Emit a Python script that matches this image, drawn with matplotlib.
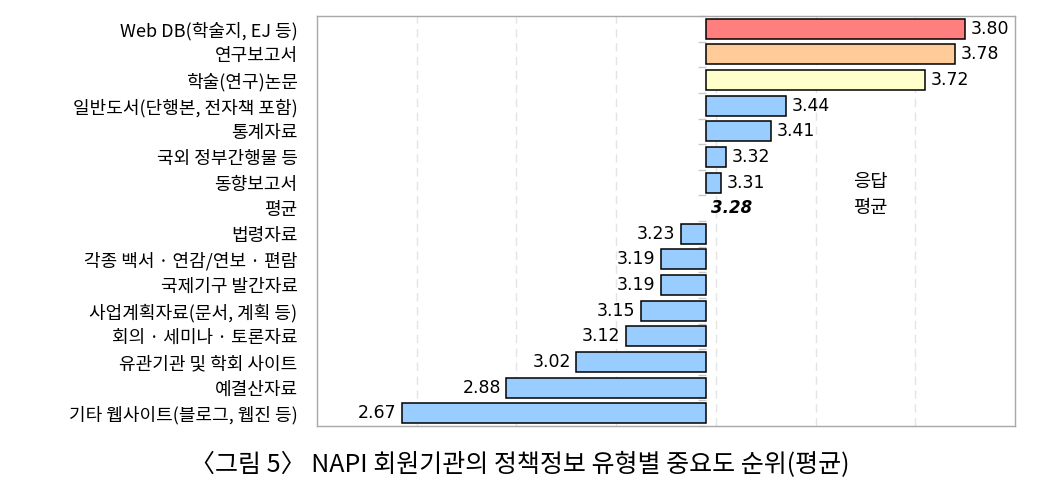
import matplotlib
matplotlib.use('Agg')
import matplotlib.pyplot as plt
import numpy as np

plt.rcParams['font.family'] = ['Noto Sans CJK KR', 'DejaVu Sans']

# data (top to bottom)
categories = ['Web DB(학술지, EJ 등)', '연구보고서', '학술(연구)논문', '일반도서(단행본, 전자책 포함)',
              '통계자료', '국외 정부간행물 등', '동향보고서', '평균', '법령자료',
              '각종 백서 · 연감/연보 · 편람', '국제기구 발간자료', '사업계획자료(문서, 계획 등)',
              '회의 · 세미나 · 토론자료', '유관기관 및 학회 사이트', '예결산자료', '기타 웹사이트(블로그, 웹진 등)']
values = [3.80, 3.78, 3.72, 3.44, 3.41, 3.32, 3.31, 3.28, 3.23, 3.19, 3.19, 3.15, 3.12, 3.02, 2.88, 2.67]
colors = ['#FF7F7F', '#FFCC99', '#FFFFCC'] + ['#99CCFF'] * 13
mean_val = 3.28
mean_idx = categories.index('평균')

x_min, x_max = 2.5, 3.9

fig = plt.figure(figsize=(10.39, 4.9), dpi=100)
ax = fig.add_axes([0.3051, 0.1306, 0.6718, 0.8367])

y = np.arange(len(categories))
for i, (v, c) in enumerate(zip(values, colors)):
    if i == mean_idx:
        continue
    ax.barh(i, v - mean_val, left=mean_val, height=0.78, color=c,
            edgecolor='black', linewidth=1.1, zorder=3)
    if v >= mean_val:
        ax.annotate(f'{v:.2f}', xy=(v, i), xytext=(4, 0), textcoords='offset points',
                    ha='left', va='center', fontsize=12.5, fontfamily='DejaVu Sans')
    else:
        ax.annotate(f'{v:.2f}', xy=(v, i), xytext=(-4, 0), textcoords='offset points',
                    ha='right', va='center', fontsize=12.5, fontfamily='DejaVu Sans')

# mean label
ax.annotate(f'{mean_val:.2f}', xy=(mean_val, mean_idx), xytext=(4, 0), textcoords='offset points',
            ha='left', va='center', fontsize=12, fontweight='bold', fontstyle='italic',
            fontfamily='DejaVu Sans')

ax.text(3.61, 6.45, '응답\n평균', ha='center', va='center', fontsize=13.5, linespacing=1.3)

ax.set_xlim(x_min, x_max)
ax.set_ylim(len(categories) - 0.5, -0.5)
ax.set_xticks(np.arange(2.7, 3.8, 0.2))
ax.tick_params(axis='x', length=0, labelbottom=False)
ax.set_yticks(y)
ax.set_yticklabels(categories, fontsize=13)
ax.tick_params(axis='y', length=0, pad=14)
ax.grid(axis='x', color='#E4E4E4', linestyle=(0, (6, 4)), linewidth=1, zorder=0)
for s in ax.spines.values():
    s.set_color('#A8A8A8')
    s.set_linewidth(1)

# small ticks along the baseline at the mean
sec = ax.secondary_yaxis((mean_val - x_min) / (x_max - x_min))
sec.set_yticks(np.arange(len(categories) + 1) - 0.5)
sec.set_yticklabels([])
sec.tick_params(axis='y', direction='in', length=6, color='#C8C8C8', width=1)
sec.spines['left'].set_visible(False)
sec.spines['right'].set_visible(False)

fig.text(0.5, 0.05, '〈그림 5〉 NAPI 회원기관의 정책정보 유형별 중요도 순위(평균)',
         ha='center', va='center', fontsize=18)

fig.savefig('out.png', dpi=100)
